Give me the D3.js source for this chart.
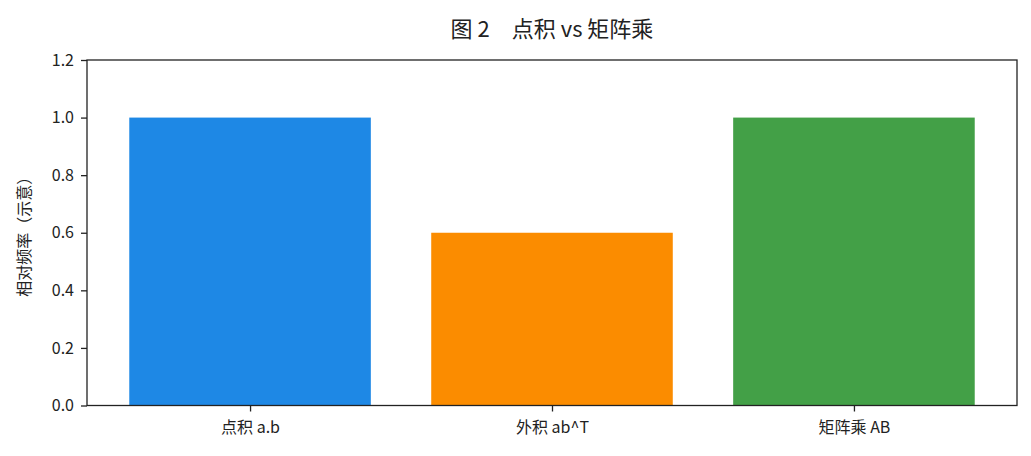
<!DOCTYPE html>
<html>
<head>
<meta charset="utf-8">
<script src="https://cdn.jsdelivr.net/npm/d3@7"></script>
<style>
  body { margin: 0; background: #fff; }
  text { font-family: "Noto Sans CJK SC", "Noto Sans", sans-serif; fill: #222; }
</style>
</head>
<body>
<div id="chart"></div>
<script>
var w = 1031;
var h = 456;

// data
var categories = ["点积 a.b", "外积 ab^T", "矩阵乘 AB"];
var values = [1.0, 0.6, 1.0];
var colors = ["#1E88E5", "#FB8C00", "#43A047"];
var yTicks = [0.0, 0.2, 0.4, 0.6, 0.8, 1.0, 1.2];

// plot box (window.top is reserved, so no plain "top")
var padL = 87, padR = 1017, padT = 60, padB = 405.5;
var barWidth = 0.8;

var x = d3.scaleLinear().domain([-0.54, 2.54]).range([padL, padR]);
var y = d3.scaleLinear().domain([0, 1.2]).range([padB, padT]);

var svg = d3.select("#chart")
            .append("svg")
            .attr("width", w)
            .attr("height", h);

svg.selectAll("rect.bar")
   .data(values)
   .enter()
   .append("rect")
   .attr("class", "bar")
   .attr("x", function(d, i) { return x(i - barWidth / 2); })
   .attr("width", function(d, i) { return x(i + barWidth / 2) - x(i - barWidth / 2); })
   .attr("y", function(d) { return y(d); })
   .attr("height", function(d) { return y(0) - y(d); })
   .style("fill", function(d, i) { return colors[i]; });

// frame
svg.append("rect")
   .attr("x", padL)
   .attr("y", padT)
   .attr("width", padR - padL)
   .attr("height", padB - padT)
   .style("fill", "none")
   .style("stroke", "#222")
   .style("stroke-width", 1.3);

var yAxis = d3.axisLeft(y)
              .tickValues(yTicks)
              .tickFormat(d3.format(".1f"))
              .tickSize(6)
              .tickPadding(7);

var gy = svg.append("g")
            .attr("transform", "translate(" + padL + ",0)")
            .call(yAxis);

var xAxis = d3.axisBottom(x)
              .tickValues(d3.range(categories.length))
              .tickFormat(function(d) { return categories[d]; })
              .tickSize(6)
              .tickPadding(10);

var gx = svg.append("g")
            .attr("transform", "translate(0," + padB + ")")
            .call(xAxis);

[gx, gy].forEach(function(g) {
  g.select(".domain").remove();
  g.selectAll(".tick line").style("stroke", "#222").style("stroke-width", 1.3);
  g.selectAll(".tick text")
   .style("font-size", "16px")
   .style("font-family", "\"Noto Sans CJK SC\", sans-serif")
   .style("fill", "#222");
});

svg.append("text")
   .attr("x", (padL + padR) / 2)
   .attr("y", 37)
   .attr("text-anchor", "middle")
   .style("font-size", "22px")
   .text("图 2　点积 vs 矩阵乘");

svg.append("text")
   .attr("transform", "translate(30," + ((padT + padB) / 2) + ") rotate(-90)")
   .attr("text-anchor", "middle")
   .style("font-size", "16px")
   .text("相对频率（示意）");
</script>
</body>
</html>
